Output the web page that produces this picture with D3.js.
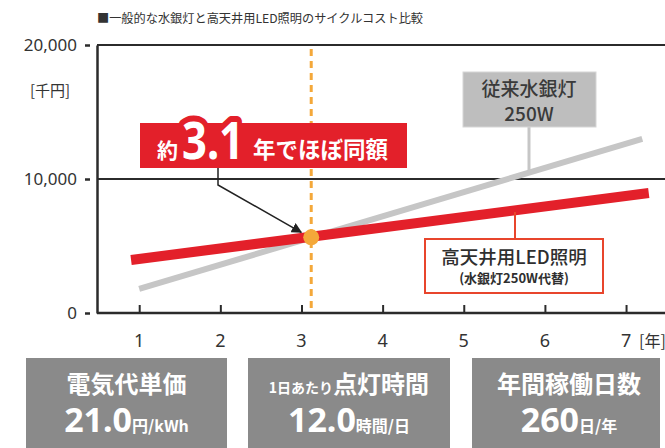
<!DOCTYPE html>
<html><head><meta charset="utf-8">
<script src="https://cdn.jsdelivr.net/npm/d3@7"></script>
<style>
html,body{margin:0;padding:0;background:#fff;}
svg{display:block;font-family:"Noto Sans CJK JP","Noto Sans",sans-serif;}
</style></head>
<body>
<svg id="c" width="665" height="448"></svg>
<script>
// ---- data ----
const title = "■一般的な水銀灯と高天井用LED照明のサイクルコスト比較";
const yTicks = [0, 10000, 20000];
const yUnit = "[千円]";
const xTicks = [1, 2, 3, 4, 5, 6, 7];
const xUnit = "[年]";
const mercuryYears = [1.0, 7.2];
const mercuryCost = [1800, 13000];
const ledYears = [0.9, 7.28];
const ledCost = [3950, 8960];
const breakEvenYear = 3.12;
const breakEvenCost = 5650;
const mercuryLabel = ["従来水銀灯", "250W"];
const ledLabel = ["高天井用LED照明", "(水銀灯250W代替)"];
const calloutParts = ["約", "3.1", "年でほぼ同額"];
const paramPrefix = ["", "1日あたり", ""];
const paramLabels = ["電気代単価", "点灯時間", "年間稼働日数"];
const paramValues = ["21.0", "12.0", "260"];
const paramUnits = ["円/kWh", "時間/日", "日/年"];

// ---- chart ----
const svg = d3.select("#c");
const x = d3.scaleLinear().domain([0.48, 7.48]).range([97, 665]);
const y = d3.scaleLinear().domain([0, 20000]).range([313, 45]);
const RED = "#E3202A", ORANGE = "#F4A83A", GRAY = "#C6C6C6", TXT = "#333";

svg.append("text").attr("x", 97).attr("y", 23).attr("font-size", 12.2)
  .attr("fill", TXT).text(title);

// horizontal grid lines
svg.append("g").selectAll("line").data(yTicks.filter(d => d > 0)).join("line")
  .attr("x1", x.range()[0]).attr("x2", 665)
  .attr("y1", d => y(d)).attr("y2", d => y(d))
  .attr("stroke", "#2b2b2b").attr("stroke-width", 2);

// y axis
const yAxis = svg.append("g").attr("transform", "translate(97,0)")
  .call(d3.axisLeft(y).tickValues(yTicks).tickFormat(d3.format(",")).tickSize(0).tickPadding(20));
yAxis.select(".domain").attr("stroke", "#2b2b2b").attr("stroke-width", 2.5);
yAxis.selectAll("text").attr("font-size", 17).attr("fill", TXT)
  .attr("font-family", "'Noto Sans','Noto Sans CJK JP',sans-serif");
yAxis.selectAll(".tick").append("line").attr("x1", -12).attr("x2", -7)
  .attr("stroke", "#2b2b2b").attr("stroke-width", 2.5);

svg.append("text").attr("x", 50).attr("y", 96).attr("text-anchor", "middle")
  .attr("font-size", 15).attr("fill", TXT).text(yUnit);

// x axis
const xAxis = svg.append("g").attr("transform", "translate(0,313)")
  .call(d3.axisTop(x).tickValues(xTicks).tickSize(8).tickFormat(""));
xAxis.select(".domain").attr("stroke", "#2b2b2b").attr("stroke-width", 2.5).attr("d", "M97,0H665");
xAxis.selectAll(".tick line").attr("stroke", "#2b2b2b").attr("stroke-width", 2);
svg.append("g").selectAll("text").data(xTicks).join("text")
  .attr("x", d => x(d)).attr("y", 347).attr("text-anchor", "middle")
  .attr("font-size", 18).attr("fill", TXT)
  .attr("font-family", "'Noto Sans','Noto Sans CJK JP',sans-serif").text(d => d);
svg.append("text").attr("x", 639).attr("y", 347).attr("font-size", 16)
  .attr("fill", TXT).text(xUnit);

// lines
const line = d3.line().x(d => x(d[0])).y(d => y(d[1]));
svg.append("path").datum(d3.zip(mercuryYears, mercuryCost)).attr("d", line)
  .attr("stroke", GRAY).attr("stroke-width", 6).attr("fill", "none");
svg.append("path").datum(d3.zip(ledYears, ledCost)).attr("d", line)
  .attr("stroke", RED).attr("stroke-width", 10).attr("fill", "none");

// break-even dashed line
svg.append("line").attr("x1", x(breakEvenYear)).attr("x2", x(breakEvenYear))
  .attr("y1", y(20000) + 4).attr("y2", y(0) - 2)
  .attr("stroke", ORANGE).attr("stroke-width", 3).attr("stroke-dasharray", "7,5");
svg.append("circle").attr("cx", x(breakEvenYear)).attr("cy", y(breakEvenCost)).attr("r", 8)
  .attr("fill", ORANGE);

// arrow
svg.append("defs").append("marker").attr("id", "ah").attr("viewBox", "0 0 10 10")
  .attr("refX", 9).attr("refY", 5).attr("markerWidth", 7).attr("markerHeight", 7)
  .attr("orient", "auto").append("path").attr("d", "M0,0L10,5L0,10z").attr("fill", "#222");
svg.append("path")
  .attr("d", `M218,168V185L${x(breakEvenYear) - 10},${y(breakEvenCost) - 5}`)
  .attr("stroke", "#222").attr("stroke-width", 1.5).attr("fill", "none")
  .attr("marker-end", "url(#ah)");

// callout
svg.append("rect").attr("x", 140).attr("y", 123).attr("width", 267).attr("height", 45).attr("fill", RED);
svg.append("text").attr("x", 157).attr("y", 158).attr("font-size", 21).attr("font-weight", 700)
  .attr("fill", "#fff").text(calloutParts[0]);
svg.append("text").attr("x", 182).attr("y", 159).attr("font-size", 52).attr("font-weight", 700)
  .attr("font-family", "'Noto Sans',sans-serif")
  .attr("textLength", 62).attr("lengthAdjust", "spacingAndGlyphs")
  .attr("fill", "#fff").attr("stroke", RED).attr("stroke-width", 12)
  .attr("stroke-linejoin", "round").attr("paint-order", "stroke").text(calloutParts[1]);
svg.append("text").attr("x", 253).attr("y", 158).attr("font-size", 22.5).attr("font-weight", 700)
  .attr("fill", "#fff").text(calloutParts[2]);

// mercury label
svg.append("line").attr("x1", 529).attr("x2", 529).attr("y1", 127).attr("y2", 172)
  .attr("stroke", GRAY).attr("stroke-width", 3);
svg.append("rect").attr("x", 463).attr("y", 72).attr("width", 133).attr("height", 55)
  .attr("fill", "#BEBEBE").attr("stroke", "#d6d6d6").attr("stroke-width", 1);
svg.append("g").selectAll("text").data(mercuryLabel).join("text")
  .attr("x", 529).attr("y", (d, i) => 96 + i * 25).attr("text-anchor", "middle")
  .attr("font-size", 19).attr("font-weight", 500).attr("fill", "#3a3a3a").text(d => d);

// LED label
svg.append("line").attr("x1", 515).attr("x2", 515).attr("y1", 212).attr("y2", 239)
  .attr("stroke", "#E8452C").attr("stroke-width", 2);
svg.append("rect").attr("x", 425).attr("y", 239).attr("width", 178).attr("height", 54)
  .attr("fill", "#fff").attr("stroke", "#E8452C").attr("stroke-width", 2);
svg.append("text").attr("x", 514).attr("y", 264).attr("text-anchor", "middle")
  .attr("font-size", 18.5).attr("font-weight", 500).attr("fill", "#2f2f2f").text(ledLabel[0]);
svg.append("text").attr("x", 514).attr("y", 283).attr("text-anchor", "middle")
  .attr("font-size", 13).attr("font-weight", 700).attr("fill", "#2f2f2f").text(ledLabel[1]);

// parameter boxes
const boxX = [26, 248, 472], boxW = [201, 202, 188];
const pg = svg.append("g").selectAll("g").data(paramLabels).join("g");
pg.append("rect").attr("x", (d, i) => boxX[i]).attr("y", 358)
  .attr("width", (d, i) => boxW[i]).attr("height", 95).attr("fill", "#8A8A8A");
const l1 = pg.append("text").attr("x", (d, i) => boxX[i] + boxW[i] / 2 + (i === 2 ? 3 : 0)).attr("y", 393)
  .attr("text-anchor", "middle").attr("fill", "#fff").attr("font-weight", 700);
l1.append("tspan").attr("font-size", 14).text((d, i) => paramPrefix[i]);
l1.append("tspan").attr("font-size", 24).text(d => d);
const l2 = pg.append("text").attr("x", (d, i) => boxX[i] + boxW[i] / 2 + (i === 2 ? 3 : 0)).attr("y", 432)
  .attr("text-anchor", "middle").attr("fill", "#fff").attr("font-weight", 700);
l2.append("tspan").attr("font-size", 34).attr("font-family", "'Noto Sans',sans-serif").text((d, i) => paramValues[i]);
l2.append("tspan").attr("font-size", 16).text((d, i) => paramUnits[i]);
</script>
</body></html>
